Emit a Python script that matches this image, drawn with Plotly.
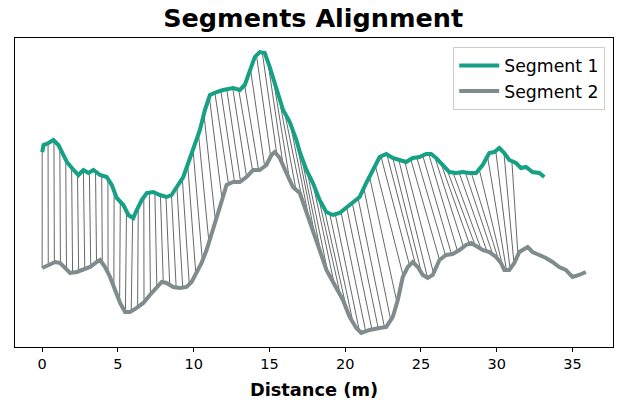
import numpy as np
import plotly.graph_objects as go

# ---- Segment 1 (green) : distance (m), relative elevation ----
seg1_dist = [0.00, 0.09, 0.42, 0.74, 1.07, 1.40, 1.63, 1.96, 2.39, 2.72, 3.05, 3.38, 3.82, 4.26,
             4.59, 4.92, 5.36, 5.69, 6.01, 6.24, 6.57, 6.90, 7.33, 7.77, 8.21, 8.54, 8.87, 9.31,
             9.64, 9.97, 10.41, 10.74, 11.07, 11.51, 11.94, 12.60, 13.04, 13.37, 13.70, 14.03,
             14.36, 14.69, 15.02, 15.46, 15.90, 16.34, 16.78, 17.00, 17.44, 17.87, 18.31, 18.75,
             19.19, 19.63, 20.07, 20.51, 20.95, 21.39, 21.82, 22.27, 22.71, 23.14, 23.58, 24.02,
             24.46, 24.90, 25.34, 25.67, 26.00, 26.44, 26.88, 27.32, 27.75, 28.19, 28.64, 29.07,
             29.51, 29.84, 30.17, 30.50, 30.83, 31.27, 31.60, 31.93, 32.36, 32.81, 33.14]
seg1_elev = [18.8, 19.5, 19.7, 20.0, 19.5, 18.5, 17.8, 17.2, 16.5, 17.0, 16.7, 17.0, 16.5, 16.3,
             15.5, 14.2, 13.5, 12.5, 12.2, 13.0, 14.0, 14.7, 14.8, 14.5, 14.3, 14.5, 15.3, 16.3,
             17.7, 19.0, 21.0, 23.0, 24.5, 24.8, 25.0, 25.2, 25.0, 25.5, 26.8, 28.3,
             28.8, 28.7, 27.3, 25.0, 23.0, 21.8, 20.0, 18.8, 17.0, 15.7, 14.0, 12.8,
             12.5, 12.7, 13.2, 13.7, 14.3, 15.7, 17.0, 18.3, 18.6, 18.2, 18.0, 17.8,
             18.2, 18.3, 18.6, 18.6, 18.2, 17.5, 16.8, 16.7, 16.8, 16.7, 16.7, 17.5,
             18.7, 18.8, 19.2, 18.7, 18.0, 17.7, 17.2, 17.3, 16.8, 16.7, 16.3]

# ---- Segment 2 (grey) ----
seg2_dist = [0.00, 0.42, 0.86, 1.19, 1.52, 1.84, 2.29, 2.72, 3.16, 3.60, 3.82, 4.15, 4.48, 4.81,
             5.14, 5.47, 5.80, 6.24, 6.67, 7.11, 7.56, 7.89, 8.21, 8.65, 9.09, 9.53, 9.86, 10.19,
             10.52, 10.85, 11.28, 11.73, 12.17, 12.60, 13.04, 13.48, 13.92, 14.36, 14.80, 15.13,
             15.35, 15.68, 16.12, 16.55, 17.00, 17.65, 18.31, 18.76, 19.41, 19.85, 20.29, 20.73,
             21.06, 21.61, 22.27, 22.71, 23.14, 23.47, 23.80, 24.13, 24.46, 24.79, 25.12, 25.45,
             25.78, 26.22, 26.66, 27.09, 27.54, 27.98, 28.31, 28.64, 29.07, 29.51, 29.95, 30.28,
             30.50, 30.83, 31.16, 31.49, 32.04, 32.36, 32.81, 33.25, 33.68, 34.12, 34.56, 35.00,
             35.44, 35.88]
seg2_elev = [7.2, 7.5, 7.8, 7.7, 7.2, 6.7, 6.8, 7.0, 7.3, 7.8, 8.0, 7.3, 6.3, 5.0,
             3.7, 2.8, 2.8, 3.2, 3.7, 4.5, 5.3, 5.8, 5.7, 5.3, 5.2, 5.3, 5.8, 6.7,
             7.7, 9.0, 11.0, 13.3, 15.5, 15.8, 15.8, 16.3, 17.0, 17.0, 17.5, 18.5,
             18.8, 18.2, 16.7, 15.3, 14.7, 12.0, 9.0, 7.0, 5.3, 4.0, 2.3, 1.2,
             0.7, 1.0, 1.2, 1.3, 2.3, 4.0, 6.3, 7.3, 7.8, 7.3, 6.5, 6.2,
             6.5, 8.0, 8.5, 8.6, 9.0, 9.5, 9.7, 9.4, 9.0, 8.8, 8.3, 7.7,
             7.0, 7.0, 7.7, 8.8, 9.3, 8.8, 8.5, 8.2, 7.8, 7.3, 7.0, 6.3,
             6.5, 6.8]

# ---- Alignment path (matching distances on segment 1 -> segment 2) ----
align_seg1 = [0.0, 3.0, 6.0, 8.5, 11.3, 14.36, 17.0, 19.4, 22.5, 26.0, 28.4, 30.2, 31.0]
align_seg2 = [0.0, 3.1, 5.9, 8.8, 12.2, 15.3, 18.3, 21.0, 24.4, 27.9, 30.2, 31.0, 31.4]
n_links = 80

GREEN = "#16a085"
GREY = "#7f8c8d"

# connectors evenly spaced along the alignment path
a1 = np.array(align_seg1)
a2 = np.array(align_seg2)
t = np.concatenate([[0], np.cumsum(np.diff(a1) + np.diff(a2))])
ts = np.linspace(0, t[-1], n_links)
g_d = np.interp(ts, t, a1)
s_d = np.interp(ts, t, a2)
g_e = np.interp(g_d, seg1_dist, seg1_elev)
s_e = np.interp(s_d, seg2_dist, seg2_elev)
lx, ly = [], []
for i in range(n_links):
    lx += [g_d[i], s_d[i], None]
    ly += [g_e[i], s_e[i], None]

fig = go.Figure()
fig.add_trace(go.Scatter(x=lx, y=ly, mode="lines", line=dict(color="rgba(0,0,0,0.75)", width=0.8),
                         showlegend=False, hoverinfo="skip"))
fig.add_trace(go.Scatter(x=seg1_dist, y=seg1_elev, mode="lines", name="Segment 1",
                         line=dict(color=GREEN, width=4)))
fig.add_trace(go.Scatter(x=seg2_dist, y=seg2_elev, mode="lines", name="Segment 2",
                         line=dict(color=GREY, width=4)))

xmin, xmax = 0.0, max(seg2_dist)
xm = (xmax - xmin) * 0.05
ymin, ymax = min(seg2_elev), max(seg1_elev)
ym = (ymax - ymin) * 0.05

fig.update_layout(
    width=619, height=405,
    margin=dict(l=15, r=6, t=38, b=58),
    paper_bgcolor="white", plot_bgcolor="white",
    font=dict(family="DejaVu Sans", color="black"),
    title=dict(text="<b>Segments Alignment</b>", x=0.506, xanchor="center",
               y=1 - 18 / 405, yanchor="middle", font=dict(size=25.5, family="DejaVu Sans")),
    legend=dict(x=0.987, y=0.972, xanchor="right", yanchor="top", itemwidth=40,
                bgcolor="rgba(255,255,255,0.8)", bordercolor="#cccccc", borderwidth=1,
                font=dict(size=17.3, family="DejaVu Sans")),
    showlegend=True,
)
fig.update_xaxes(range=[xmin - xm, xmax + xm], tickvals=[0, 5, 10, 15, 20, 25, 30, 35],
                 ticks="outside", ticklen=4, tickcolor="black", tickfont=dict(size=14.5),
                 showline=True, linecolor="black", linewidth=1, mirror=True, showgrid=False,
                 zeroline=False,
                 title=dict(text="<b>Distance (m)</b>", font=dict(size=17.8), standoff=12))
fig.update_yaxes(range=[ymin - ym, ymax + ym], showticklabels=False, ticks="",
                 showline=True, linecolor="black", linewidth=1, mirror=True, showgrid=False,
                 zeroline=False)

fig.write_html("out.html")
